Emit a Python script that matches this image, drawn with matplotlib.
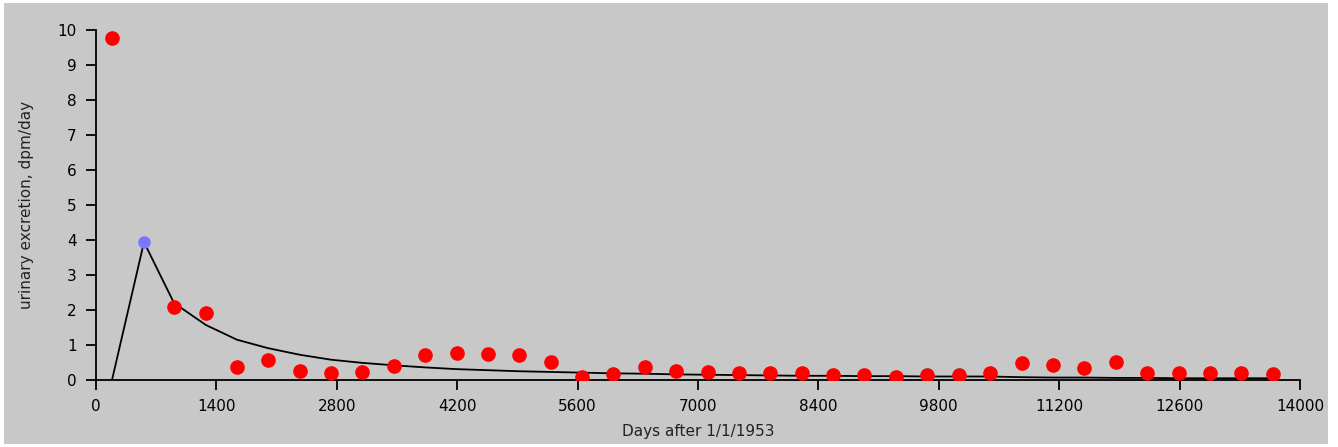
import matplotlib
matplotlib.use("Agg")
import matplotlib.pyplot as plt
from matplotlib.patches import Rectangle

# measured urine excretion (red points)
days = [186, 907, 1279, 1640, 2000, 2372, 2733, 3093, 3465, 3826, 4198, 4558,
        4919, 5291, 5651, 6012, 6384, 6744, 7116, 7477, 7837, 8209, 8570, 8930,
        9302, 9663, 10035, 10395, 10767, 11128, 11488, 11860, 12221, 12593,
        12953, 13314, 13686]
excretion = [9.77, 2.1, 1.91, 0.37, 0.57, 0.26, 0.2, 0.23, 0.4, 0.71, 0.77, 0.74,
             0.71, 0.51, 0.1, 0.17, 0.37, 0.26, 0.23, 0.2, 0.2, 0.2, 0.14, 0.14,
             0.1, 0.14, 0.14, 0.2, 0.49, 0.43, 0.34, 0.51, 0.2, 0.2,
             0.2, 0.2, 0.17]

# highlighted point (blue)
peak_day = [558]
peak_val = [3.94]

# model curve
model_days = [186, 558, 907, 1279, 1640, 2000, 2372, 2733, 3093, 3465, 3826,
              4198, 4558, 4919, 5291, 5651, 6012, 6384, 6744, 7116, 7477, 7837,
              8209, 8570, 8930, 9302, 9663, 10035, 10395, 10767, 11128, 11488,
              11860, 12221, 12593, 12953, 13314, 13686]
model_vals = [0.0, 3.94, 2.2, 1.57, 1.15, 0.91, 0.72, 0.58, 0.49, 0.42, 0.36,
              0.31, 0.28, 0.25, 0.23, 0.21, 0.19, 0.18, 0.16, 0.15, 0.14, 0.13,
              0.12, 0.12, 0.11, 0.11, 0.10, 0.10, 0.10, 0.08, 0.07, 0.07,
              0.06, 0.06, 0.05, 0.05, 0.05, 0.05]

bg = "#c8c8c8"
fig = plt.figure(figsize=(13.38, 4.47), dpi=100, facecolor="white")
fig.patches.append(Rectangle((4 / 1338, 3 / 447), 1324 / 1338, 441 / 447,
                             transform=fig.transFigure, facecolor=bg,
                             edgecolor="none", zorder=-10))
ax = fig.add_axes([96 / 1338, 67 / 447, 1204 / 1338, 350 / 447])
ax.set_facecolor(bg)

ax.plot(model_days, model_vals, color="black", lw=1.3, zorder=2)
ax.plot(days, excretion, "o", color="red", ms=9.5, mec="red", zorder=3)
ax.plot(peak_day, peak_val, "o", color="#7878ff", ms=8, mec="#7878ff", zorder=4)

ax.set_xlim(0, 14000)
ax.set_ylim(0, 10)
ax.set_xticks(range(0, 14001, 1400))
ax.set_yticks(range(0, 11))
for s in ["top", "right"]:
    ax.spines[s].set_visible(False)
for s in ["left", "bottom"]:
    ax.spines[s].set_linewidth(1.3)
ax.tick_params(direction="out", length=7, width=1.3, labelsize=11, colors="black")
ax.tick_params(axis="x", pad=7)
ax.tick_params(axis="y", pad=7)
ax.set_xlabel("Days after 1/1/1953", fontsize=11, labelpad=7, color="#222222")
ax.set_ylabel("urinary excretion, dpm/day", fontsize=11, labelpad=17, color="#222222")

fig.savefig("out.png", dpi=100, facecolor="white")
